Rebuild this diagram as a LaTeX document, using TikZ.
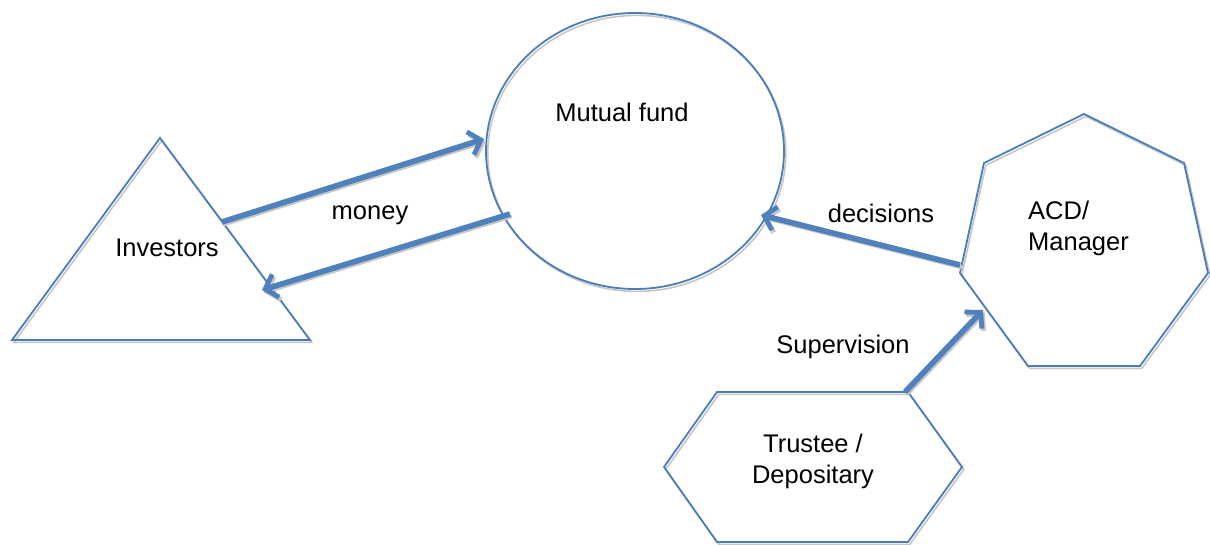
\documentclass[tikz,border=0pt]{standalone}
\usepackage{fontspec}
\setmainfont{Liberation Sans}
\usetikzlibrary{arrows.meta,shapes.geometric}
\definecolor{shapeblue}{HTML}{4A7EBB}
\definecolor{arrowblue}{HTML}{4F81BD}
\begin{document}
\begin{tikzpicture}[x=1pt,y=-1pt,
  shapeline/.style={draw=shapeblue, line width=1.8pt, line join=miter,
    preaction={draw=gray!45, line width=1.6pt, transform canvas={shift={(1.8pt,-2.4pt)}}}},
  flow/.style={draw=arrowblue, line width=5.6pt,
    -{Straight Barb[length=11pt,width=24pt,line width=4.8pt]},
    preaction={draw=gray!45, line width=4pt, transform canvas={shift={(1.8pt,-2.4pt)}}}},
  lbl/.style={font=\fontsize{25.5}{31}\selectfont, inner sep=0pt, align=center}]
\useasboundingbox (0,0) rectangle (1210,545);
\fill[white] (0,0) rectangle (1210,545);
% Investors triangle
\path[shapeline] (160,138) -- (310,340) -- (12,340) -- cycle;
% Mutual fund ellipse
\node[shapeline, ellipse, minimum width=298pt, minimum height=276pt, inner sep=0pt] (fund) at (635,151) {};
% ACD heptagon
\path[shapeline] (1084,114) -- (1184,163) -- (1208,273) -- (1140,366) -- (1028,366) -- (960,273) -- (984,163) -- cycle;
% Trustee hexagon
\path[shapeline] (717,392) -- (908,392) -- (962,467) -- (908,542) -- (717,542) -- (664,467) -- cycle;
% labels
\node[lbl] (tfund) at (622,112) {Mutual fund};
\node[lbl] (tinv) at (167,248) {Investors};
\node[lbl] (tmoney) at (370,215) {money};
\node[lbl] (tdec) at (881,213) {decisions};
\node[lbl, align=left, anchor=west] (tacd) at (1028,228) {ACD/\\Manager};
\node[lbl] (tsup) at (843,347) {Supervision};
\node[lbl] (ttrust) at (813,461) {Trustee /\\Depositary};
% connector end points
\coordinate (invOut) at (222,222);
\coordinate (fundIn) at (484,139);
\coordinate (fundOut) at (510,214);
\coordinate (invIn) at (262,290);
\coordinate (acdOut) at (960,265);
\coordinate (fundDec) at (761,215);
\coordinate (trustOut) at (905,392);
\coordinate (acdIn) at (983,310);
% connectors
\draw[flow] (invOut) -- (fundIn);
\draw[flow] (fundOut) -- (invIn);
\draw[flow] (acdOut) -- (fundDec);
\draw[flow] (trustOut) -- (acdIn);
\end{tikzpicture}
\end{document}
